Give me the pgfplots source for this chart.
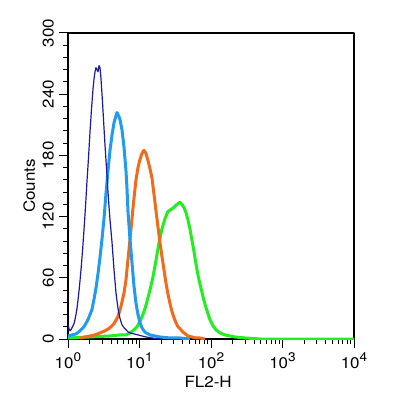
\documentclass[border=0pt]{standalone}
\usepackage{fontspec}
\setmainfont[FakeStretch=1.1]{TeX Gyre Heros}
\usepackage{pgfplots}
\pgfplotsset{compat=1.18}
\definecolor{dblue}{HTML}{1A1AA8}
\definecolor{lblue}{HTML}{1F9BF0}
\definecolor{orng}{HTML}{F26A1B}
\definecolor{grn}{HTML}{22EE22}
\newcommand{\tp}[1]{10\raisebox{6.5bp}{\fontsize{12.5}{12}\selectfont #1}}
\begin{document}
\begin{tikzpicture}
\begin{axis}[
  scale only axis, width=286bp, height=306bp,
  xmode=log, xmin=1, xmax=10000, ymin=0, ymax=300,
  xtick={1,10,100,1000,10000},
  xticklabels={\tp{0},\tp{1},\tp{2},\tp{3},\tp{4}},
  minor xtick={2,3,4,5,6,7,8,9,20,30,40,50,60,70,80,90,200,300,400,500,600,700,800,900,2000,3000,4000,5000,6000,7000,8000,9000},
  ytick={0,60,120,180,240,300},
  minor ytick={12,24,36,48,72,84,96,108,132,144,156,168,192,204,216,228,252,264,276,288},
  tick pos=left,
  tick align=outside,
  major tick length=9bp, minor tick length=5bp,
  tick style={line width=1bp, black},
  axis line style={line width=1.1bp},
  font=\fontsize{15.5}{18}\selectfont,
  /pgf/number format/assume math mode=true,
  xticklabel style={anchor=base, inner sep=0pt},
  xticklabel shift=20bp,
  yticklabel style={rotate=90, anchor=base, inner sep=0pt},
  yticklabel shift=5.5bp,
  xlabel={FL2-H}, ylabel={Counts},
  xlabel style={at={(axis description cs:0.49,-0.157)}, anchor=base, inner sep=0pt},
  ylabel style={at={(axis description cs:-0.1154,0.5)}, anchor=base, inner sep=0pt},
  line join=round,
]
% green
\addplot[grn, line width=3bp] table {
1.000 1
2.031 2
3.868 3
5.34 4
6.47 4
7.36 6
8.37 9
9.23 12
10.15 17
11.19 24
12.31 33
14.01 48
15.45 61
16.99 77
18.74 94
20.61 108
22.73 118
25.0 125
27.57 127
30.32 129
33.45 132
36.78 134
39.22 132
41.83 129
44.61 124
47.57 117
50.7 108
54.1 97
57.7 86
61.5 74
65.6 63
70.0 54
74.6 46
79.6 38
84.9 31
90.5 25
96.5 19
106.6 13
117.1 9
133.2 6
156.5 4
184 3
216 2
299 1
485 0
10000 0
};
% orange
\addplot[orng, line width=3bp] table {
1.472 1
1.729 2
2.031 3
2.386 4
2.803 6
3.293 8
3.868 11
4.400 15
5.00 22
5.51 32
6.07 45
6.47 58
6.90 78
7.36 97
7.85 118
8.37 138
8.93 156
9.52 168
10.15 176
10.83 182
11.55 185
12.31 182
13.13 175
14.01 167
14.94 158
15.93 142
16.99 126
18.12 110
19.32 95
20.61 81
21.98 68
23.44 55
25.0 44
26.66 35
28.43 27
30.32 21
32.33 16
34.48 12
36.78 10
41.83 6
47.57 3
54.1 2
61.5 1
70.0 1
82.4 0
};
% light blue
\addplot[lblue, line width=3bp] table {
1.000 3
1.137 4
1.294 5
1.472 8
1.674 12
1.905 19
2.031 24
2.166 29
2.311 39
2.464 50
2.628 64
2.803 80
2.990 98
3.188 118
3.400 143
3.627 165
3.868 185
4.125 200
4.400 212
4.692 219
4.85 222
5.00 220
5.17 218
5.34 215
5.69 205
6.07 188
6.47 165
6.68 148
6.90 125
7.36 98
7.85 75
8.37 52
8.93 35
9.52 24
10.15 16
10.83 11
11.55 8
12.31 6
14.01 4
16.5 3
19.32 2
26.66 1
36.78 1
50.7 0
};
% dark blue
\addplot[dblue, line width=1.2bp] table {
1.000 14
1.033 10
1.066 8
1.101 9
1.137 11
1.175 13
1.213 15
1.252 19
1.294 24
1.336 30
1.380 38
1.425 47
1.472 57
1.520 68
1.570 80
1.621 93
1.674 107
1.729 122
1.786 138
1.844 155
1.905 170
1.967 186
2.031 203
2.098 218
2.166 232
2.237 245
2.311 255
2.386 262
2.464 266
2.545 264
2.628 262
2.714 268
2.803 266
2.895 255
2.990 240
3.087 224
3.188 207
3.293 190
3.400 175
3.512 160
3.627 144
3.745 130
3.868 117
4.125 95
4.400 68
4.692 45
5.00 30
5.34 20
5.69 14
6.07 11
6.47 9
6.90 7
7.36 6
8.37 5
9.52 4
10.83 3
12.31 2
14.94 1
19.32 0
};
\end{axis}
\path ([shift={(-68bp,-60bp)}]current axis.south west) rectangle ([shift={(46bp,33bp)}]current axis.north east);
\end{tikzpicture}
\end{document}
